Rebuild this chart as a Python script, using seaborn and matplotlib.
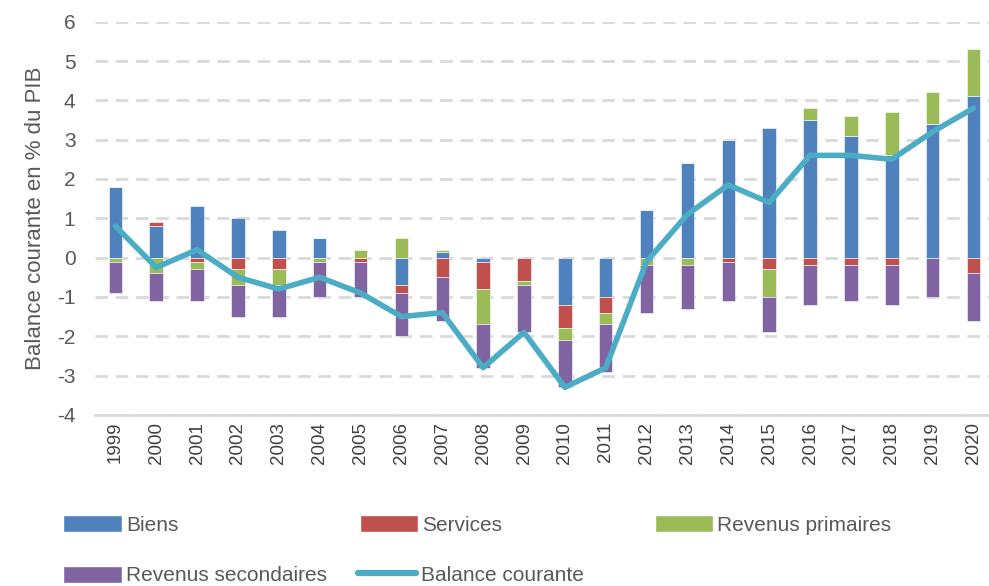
import numpy as np
import matplotlib
matplotlib.use("Agg")
import matplotlib.pyplot as plt
from matplotlib.patches import Patch
from matplotlib.lines import Line2D
import seaborn as sns

# --- Donnees (en % du PIB) ---
annees = [str(a) for a in range(1999, 2021)]
biens = [1.8, 0.8, 1.3, 1.0, 0.7, 0.5, 0.0, -0.7, 0.13, -0.1, 0.0,
         -1.2, -1.0, 1.2, 2.4, 3.0, 3.3, 3.5, 3.1, 2.6, 3.4, 4.1]
services = [0.0, 0.1, -0.1, -0.3, -0.3, 0.0, -0.1, -0.2, -0.5, -0.7, -0.6,
            -0.6, -0.4, 0.0, 0.0, -0.1, -0.3, -0.2, -0.2, -0.2, 0.0, -0.4]
revenus_primaires = [-0.1, -0.4, -0.2, -0.4, -0.4, -0.1, 0.2, 0.5, 0.06, -0.9, -0.1,
                     -0.3, -0.3, -0.2, -0.2, 0.0, -0.7, 0.3, 0.5, 1.1, 0.8, 1.2]
revenus_secondaires = [-0.8, -0.7, -0.8, -0.8, -0.8, -0.9, -0.9, -1.1, -1.1, -1.1, -1.2,
                       -1.2, -1.2, -1.2, -1.1, -1.0, -0.9, -1.0, -0.9, -1.0, -1.0, -1.2]
balance_courante = [0.8, -0.25, 0.2, -0.5, -0.8, -0.5, -0.9, -1.5, -1.4, -2.8, -1.9,
                    -3.3, -2.8, -0.1, 1.1, 1.85, 1.4, 2.6, 2.6, 2.5, 3.2, 3.8]

series = [
    ("Biens", biens, "#4F81BD"),
    ("Services", services, "#C0504D"),
    ("Revenus primaires", revenus_primaires, "#9BBB59"),
    ("Revenus secondaires", revenus_secondaires, "#8064A2"),
]
couleur_ligne = "#4BACC6"

sns.set_theme(style="white")
plt.rcParams['font.family'] = ['Liberation Sans', 'DejaVu Sans']
plt.rcParams['axes.unicode_minus'] = False

fig = plt.figure(figsize=(9.89, 5.86), dpi=100)
ax = fig.add_axes([0.096, 0.292, 0.909, 0.671])

x = np.arange(len(annees))
pos_bas = np.zeros(len(annees))
neg_bas = np.zeros(len(annees))

# Barres empilees : positifs vers le haut, negatifs vers le bas
for nom, valeurs, couleur in series:
    v = np.array(valeurs, dtype=float)
    bas = np.where(v >= 0, pos_bas, neg_bas)
    ax.bar(x, v, width=0.33, bottom=bas, color=couleur, edgecolor="white",
           linewidth=0.4, zorder=2)
    pos_bas = pos_bas + np.where(v > 0, v, 0)
    neg_bas = neg_bas + np.where(v < 0, v, 0)

sns.lineplot(x=x, y=balance_courante, ax=ax, color=couleur_ligne, linewidth=4,
             zorder=3, legend=False)

ax.set_xlim(-0.5, len(annees) - 0.5)
ax.set_ylim(-4, 6)
ax.set_yticks(range(-4, 7))
ax.set_xticks(x)
ax.set_xticklabels(annees, rotation=90, fontsize=13.5, color="#404040")
ax.tick_params(axis="y", labelsize=15, labelcolor="#595959", length=0, pad=14)
ax.tick_params(axis="x", length=0, pad=5)

ax.yaxis.grid(True, color="#D9D9D9", linewidth=2, linestyle=(0, (4.5, 2.8)), zorder=0)
ax.xaxis.grid(False)
for s in ["top", "right", "left"]:
    ax.spines[s].set_visible(False)
ax.spines["bottom"].set_color("#D9D9D9")
ax.spines["bottom"].set_linewidth(2)
ax.set_axisbelow(True)

ax.set_ylabel("Balance courante en % du PIB", fontsize=16, color="#595959", labelpad=8)

# Legende sur trois colonnes regulieres, comme dans le tableur
elements = [Patch(facecolor=c, edgecolor="white") for _, _, c in series]
elements.append(Line2D([0], [0], color=couleur_ligne, linewidth=4.5,
                       solid_capstyle="round"))
noms = [n for n, _, _ in series] + ["Balance courante"]
positions = [(0.064, 0.104), (0.364, 0.104), (0.662, 0.104),
             (0.064, 0.018), (0.362, 0.018)]
for h, n, (px, py) in zip(elements, noms, positions):
    fig.legend([h], [n], loc="center left", bbox_to_anchor=(px, py),
               frameon=False, handlelength=2.8, handleheight=0.9,
               handletextpad=0.2, borderpad=0, borderaxespad=0,
               prop={"size": 15}, labelcolor="#595959")

fig.savefig("out.png", dpi=100)
